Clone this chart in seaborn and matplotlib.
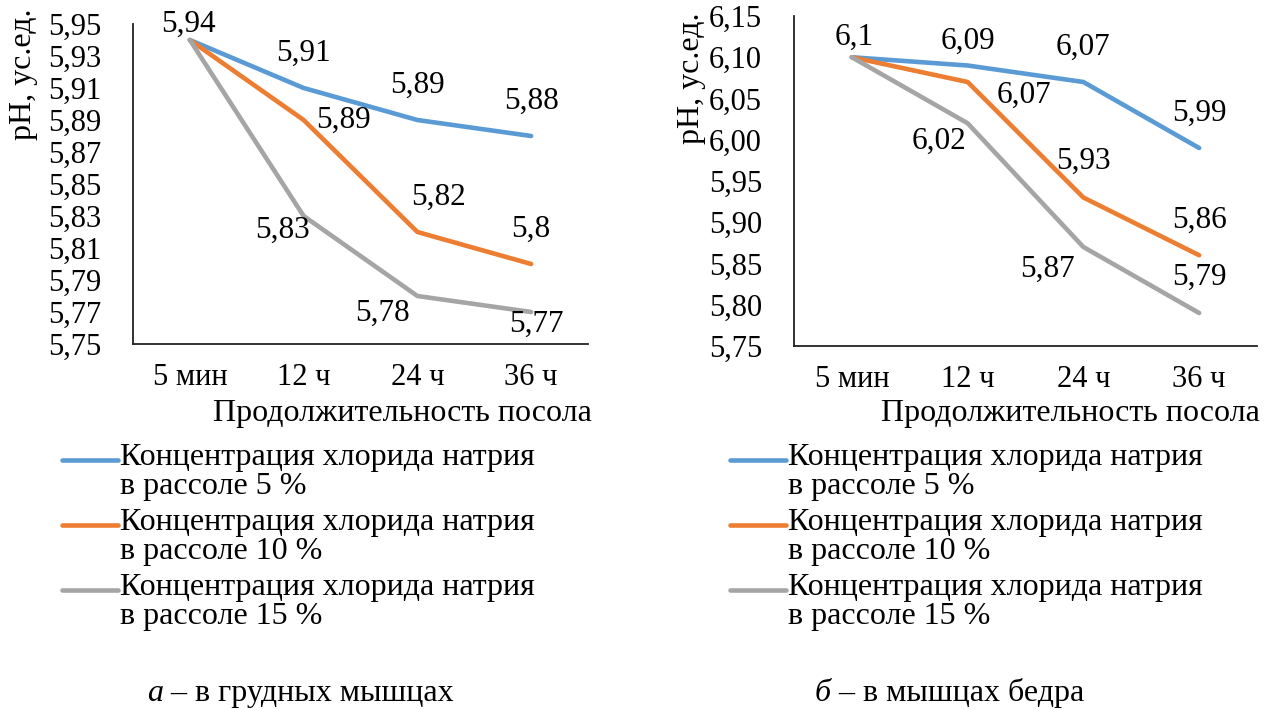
import numpy as np
import pandas as pd
import matplotlib
matplotlib.use("Agg")
import matplotlib.pyplot as plt
from matplotlib.ticker import FixedLocator, FuncFormatter
import seaborn as sns

# ---- data -------------------------------------------------------------
periods = ["5 мин", "12 ч", "24 ч", "36 ч"]
series_labels = [
    "Концентрация хлорида натрия\nв рассоле 5 %",
    "Концентрация хлорида натрия\nв рассоле 10 %",
    "Концентрация хлорида натрия\nв рассоле 15 %",
]
breast_5 = [5.94, 5.91, 5.89, 5.88]
breast_10 = [5.94, 5.89, 5.82, 5.80]
breast_15 = [5.94, 5.83, 5.78, 5.77]
thigh_5 = [6.10, 6.09, 6.07, 5.99]
thigh_10 = [6.10, 6.07, 5.93, 5.86]
thigh_15 = [6.10, 6.02, 5.87, 5.79]

breast_ticks = [5.75, 5.77, 5.79, 5.81, 5.83, 5.85, 5.87, 5.89, 5.91, 5.93, 5.95]
thigh_ticks = [5.75, 5.80, 5.85, 5.90, 5.95, 6.00, 6.05, 6.10, 6.15]

x_title = "Продолжительность посола"
y_title = "pH, ус.ед."
caption_a = ("а", " – в грудных мышцах")
caption_b = ("б", " – в мышцах бедра")

colors = ["#5B9BD5", "#ED7D31", "#A5A5A5"]

# ---- style ------------------------------------------------------------
sns.set_theme(style="white")
plt.rcParams["font.family"] = ["Liberation Serif", "DejaVu Serif"]
for key in ["text.color", "axes.labelcolor", "xtick.color", "ytick.color"]:
    plt.rcParams[key] = "black"
FS = 23        # titles, legend, captions
FS_TICK = 22   # axis tick labels
FS_VAL = 22.5  # value labels

fig = plt.figure(figsize=(12.78, 7.10), dpi=100)
W, H = 1278, 710


def px_axes(x0, x1, ytop, ybot):
    return fig.add_axes([x0 / W, (H - ybot) / H, (x1 - x0) / W, (ybot - ytop) / H])


ax_a = px_axes(133, 588, 24, 344)
ax_b = px_axes(794, 1257, 16, 346)


def long_frame(values_list):
    rows = []
    for lab, vals in zip(series_labels, values_list):
        for p, v in zip(periods, vals):
            rows.append({"period": p, "pH": v, "series": lab})
    return pd.DataFrame(rows)


def comma(v, nd=2):
    return f"{v:.{nd}f}".replace(".", ",")


def general(v):
    return f"{v:g}".replace(".", ",")


def draw_panel(ax, values_list, ticks, first_off, offsets, ylab_xy, xlab_xy):
    df = long_frame(values_list)
    sns.lineplot(data=df, x="period", y="pH", hue="series", palette=colors,
                 sort=False, linewidth=3.3, ax=ax, legend=False)
    for ln in ax.get_lines():
        ln.set_solid_capstyle("round")
        ln.set_solid_joinstyle("round")

    ax.set_xlim(-0.5, len(periods) - 0.5)
    ax.set_ylim(ticks[0], ticks[-1])
    ax.yaxis.set_major_locator(FixedLocator(ticks))
    ax.yaxis.set_major_formatter(FuncFormatter(lambda v, p: comma(v)))
    ax.set_xticks(range(len(periods)))
    ax.set_xticklabels(periods)
    ax.set_xticks(np.arange(-0.5, len(periods), 1.0), minor=True)
    ax.tick_params(axis="x", which="major", length=0, pad=14, labelsize=FS_TICK)
    ax.tick_params(axis="x", which="minor", length=9, width=1.3,
                   direction="out", color="#222222")
    ax.tick_params(axis="y", which="major", length=9, width=1.3,
                   direction="out", color="#222222", pad=14, labelsize=FS_TICK)

    for s in ["top", "right"]:
        ax.spines[s].set_visible(False)
    for s in ["left", "bottom"]:
        ax.spines[s].set_color("#222222")
        ax.spines[s].set_linewidth(1.3)

    ax.set_xlabel(x_title, fontsize=FS)
    ax.xaxis.set_label_coords(*xlab_xy)
    ax.xaxis.label.set_va("center")
    ax.set_ylabel(y_title, fontsize=FS)
    ax.yaxis.set_label_coords(*ylab_xy)
    ax.yaxis.label.set_ha("right")
    ax.yaxis.label.set_va("center")

    # value labels: shared starting point once, then each series
    v0 = values_list[0][0]
    ax.annotate(general(v0), (0, v0), xytext=first_off, textcoords="offset pixels",
                ha="center", va="center", fontsize=FS_VAL)
    for vals, offs in zip(values_list, offsets):
        for i in range(1, len(vals)):
            ax.annotate(general(vals[i]), (i, vals[i]), xytext=offs[i - 1],
                        textcoords="offset pixels", ha="center", va="center",
                        fontsize=FS_VAL)


draw_panel(
    ax_a, [breast_5, breast_10, breast_15], breast_ticks, (-1, 16),
    [[(0, 35), (0, 35), (0, 35)],
     [(40, 0), (21, 35), (0, 35)],
     [(-21, -14), (-35, -17), (5, -12)]],
    ylab_xy=((24 - 133) / 455, (344 - 9) / 320),
    xlab_xy=((402 - 133) / 455, (344 - 413) / 320),
)
draw_panel(
    ax_b, [thigh_5, thigh_10, thigh_15], thigh_ticks, (2, 20),
    [[(0, 24), (0, 35), (0, 35)],
     [(56, -13), (0, 36), (0, 35)],
     [(-29, -18), (-36, -22), (0, 36)]],
    ylab_xy=((692 - 794) / 463, (346 - 12) / 330),
    xlab_xy=((1070 - 794) / 463, (346 - 413) / 330),
)


# ---- legends ----------------------------------------------------------
def add_legend(x_left, y_top):
    handles = [plt.Line2D([], [], color=c, linewidth=3.3, solid_capstyle="round")
               for c in colors]
    leg = fig.legend(handles, series_labels, loc="upper left",
                     bbox_to_anchor=(x_left / W, (H - y_top) / H),
                     bbox_transform=fig.transFigure, frameon=False,
                     fontsize=FS, handlelength=1.75, handletextpad=0.07,
                     borderpad=0, borderaxespad=0, labelspacing=0.2)
    for t in leg.get_texts():
        t.set_linespacing(1.02)
    # put each handle level with the first line of its label
    for ln in leg.get_lines():
        yd = np.asarray(ln.get_ydata(), dtype=float)
        ln.set_ydata(yd + 8.5)
    return leg


add_legend(62, 443)
add_legend(730, 443)


# ---- captions ---------------------------------------------------------
def caption(x_left, y_base, parts):
    t1 = fig.text(x_left / W, (H - y_base) / H, parts[0], fontsize=FS,
                  style="italic", ha="left", va="baseline")
    ax_a.annotate(parts[1], xy=(1, 0), xycoords=t1, ha="left", va="bottom",
                  fontsize=FS, annotation_clip=False)


caption(147, 701, caption_a)
caption(815, 701, caption_b)

fig.savefig("out.png", dpi=100, facecolor="white")
